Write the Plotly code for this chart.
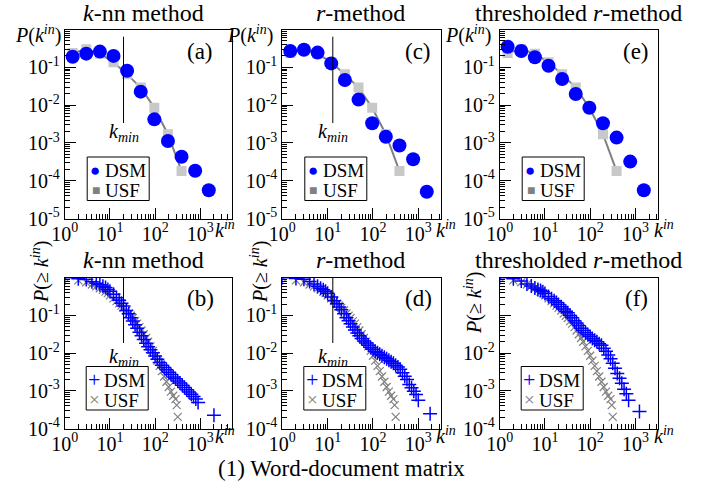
import numpy as np
import plotly.graph_objects as go

W, H = 710, 488
FONT = "Liberation Serif"

# ---------------- data ----------------
# top row: binned in-degree distribution P(k_in)
k_bins = [1.5, 3, 6, 12, 24, 48, 96, 192, 384, 768, 1536]
pdf_dsm_knn = [0.19, 0.23, 0.26, 0.20, 0.081, 0.0227, 0.0042, 0.00112, 4.3e-4, 1.84e-4, 5.6e-5]
pdf_dsm_r = [0.27, 0.29, 0.245, 0.127, 0.046, 0.014, 0.0033, 0.00146, 8.5e-4, 3.7e-4, 5.1e-5]
pdf_dsm_thr = [0.35, 0.27, 0.184, 0.11, 0.049, 0.0196, 0.0085, 0.0033, 0.00138, 3.2e-4, 5.6e-5]
k_bins_usf = [1.5, 3, 6, 12, 24, 48, 96, 192, 384]
pdf_usf = [0.24, 0.30, 0.23, 0.135, 0.065, 0.029, 0.0085, 0.0017, 1.8e-4]

# bottom row: cumulative distribution P(>= k_in)
k_cum_knn = [1, 2, 3, 4, 5, 6, 7, 8, 9, 10,
             12, 14, 16, 18, 20, 23, 26, 29, 32, 36, 40, 45, 50, 56, 63, 70, 79, 89, 100,
             112, 126, 141, 158, 178, 200, 224, 251, 282, 316,
             355, 398, 447, 501, 562, 631, 708, 794, 891, 2000]
cum_dsm_knn = [1, 0.933, 0.891, 0.776, 0.708, 0.646, 0.589, 0.550, 0.490, 0.437,
               0.363, 0.295, 0.251, 0.209, 0.178, 0.135, 0.110, 0.0871, 0.0708, 0.0562,
               0.0457, 0.0355, 0.0288, 0.0229, 0.0182, 0.0148, 0.0123, 0.0102, 0.00832,
               0.00692, 0.00562, 0.00479, 0.00417, 0.00363, 0.00309, 0.00269, 0.00234, 0.00209, 0.00182,
               0.00162, 0.00141, 0.00123, 0.00107, 9.33e-4, 8.13e-4, 7.08e-4, 6.03e-4, 4.9e-4, 2.24e-4]

k_cum_r = [1, 2, 3, 4, 5, 6, 7, 8, 9, 10,
           12, 14, 16, 18, 20, 23, 26, 29, 32, 36, 40, 45, 50, 56, 63, 70, 79, 89, 100,
           112, 126, 141, 158, 178, 200, 224, 251, 282, 316,
           355, 398, 447, 501, 562, 631, 708, 794, 891, 1000, 1820]
cum_dsm_r = [1, 0.955, 0.912, 0.794, 0.676, 0.589, 0.525, 0.479, 0.437, 0.389,
             0.309, 0.245, 0.204, 0.166, 0.141, 0.110, 0.0871, 0.0724, 0.0603, 0.0490,
             0.0407, 0.0339, 0.0288, 0.0245, 0.0209, 0.0186, 0.0162, 0.0141, 0.0126,
             0.0112, 0.0102, 0.00933, 0.00851, 0.00776, 0.00708, 0.00646, 0.00589, 0.00537, 0.00479,
             0.00427, 0.00372, 0.00302, 0.00245, 0.00200, 0.00148, 0.00120, 9.77e-4, 7.94e-4,
             5.62e-4, 2.45e-4]

k_cum_thr = [1, 2, 3, 4, 5, 6, 7, 8, 9, 10,
             12, 14, 16, 18, 20, 23, 26, 29, 32, 36, 40, 45, 50, 56, 63, 70, 79, 89, 100,
             112, 126, 141, 158, 178, 200, 224, 251, 282, 316,
             355, 398, 447, 501, 562, 631, 708, 1230]
cum_dsm_thr = [1, 0.933, 0.813, 0.676, 0.603, 0.537, 0.490, 0.457, 0.427, 0.380,
               0.316, 0.275, 0.245, 0.219, 0.195, 0.170, 0.148, 0.129, 0.117, 0.100,
               0.0871, 0.0724, 0.0631, 0.0537, 0.0457, 0.0398, 0.0347, 0.0309, 0.0275,
               0.0245, 0.0219, 0.0200, 0.0178, 0.0162, 0.0135, 0.0112, 0.00891, 0.00708, 0.00537,
               0.00398, 0.00288, 0.00214, 0.00158, 0.00110, 8.32e-4, 5.62e-4, 2.82e-4]

k_cum_usf = [1, 2, 3, 4, 5, 6, 7, 8, 9, 10,
             12, 14, 16, 18, 20, 23, 26, 29, 32, 36, 40, 45, 50, 56, 63, 70, 79, 89, 100,
             112, 126, 141, 158, 178, 200, 224, 251, 282, 300, 316]
cum_usf = [1, 0.851, 0.759, 0.661, 0.589, 0.525, 0.479, 0.427, 0.389, 0.339,
           0.282, 0.240, 0.209, 0.182, 0.158, 0.135, 0.112, 0.0977, 0.0851, 0.0708,
           0.0603, 0.0490, 0.0398, 0.0316, 0.0251, 0.0200, 0.0151, 0.0115, 0.00851,
           0.00631, 0.00457, 0.00331, 0.00240, 0.00174, 0.00126, 9.55e-4, 7.41e-4, 6.03e-4,
           4.17e-4, 2.04e-4]

k_min = {"knn": 20, "r": 13}

titles = ["<i>k</i>-nn method", "<i>r</i>-method", "thresholded <i>r</i>-method"]
letters_top = ["(a)", "(c)", "(e)"]
letters_bot = ["(b)", "(d)", "(f)"]
methods = ["knn", "r", "thr"]
pdf_dsm = {"knn": pdf_dsm_knn, "r": pdf_dsm_r, "thr": pdf_dsm_thr}
cum_dsm = {"knn": (k_cum_knn, cum_dsm_knn), "r": (k_cum_r, cum_dsm_r), "thr": (k_cum_thr, cum_dsm_thr)}

x_tickvals = [1, 10, 100, 1000]
x_ticktext = ["10<sup>0</sup>", "10<sup>1</sup>", "10<sup>2</sup>", "10<sup>3</sup>"]
y_tickvals_top = [1e-1, 1e-2, 1e-3, 1e-4, 1e-5]
y_ticktext_top = ["10<sup>-1</sup>", "10<sup>-2</sup>", "10<sup>-3</sup>", "10<sup>-4</sup>", "10<sup>-5</sup>"]
y_tickvals_bot = [1e-1, 1e-2, 1e-3, 1e-4]
y_ticktext_bot = ["10<sup>-1</sup>", "10<sup>-2</sup>", "10<sup>-3</sup>", "10<sup>-4</sup>"]
# in panel (f) the rotated axis title sits over the 10^-1 label
y_ticktext_bot_f = ["", "10<sup>-2</sup>", "10<sup>-3</sup>", "10<sup>-4</sup>"]

# ---------------- layout geometry (pixels) ----------------
cols = [(64.7, 232.0, 3.7), (282.3, 441.0, 3.5), (499.7, 658.0, 3.5)]
rows = [(29.5, 218.5, -5), (277.7, 428.5, -4)]

BLUE = "#0000ff"
GRAY = "#808080"
LGRAY = "#c8c8c8"

def px(p):
    return p / W

def py(p):
    return 1 - p / H

minor_vals = [m * 10.0 ** e for e in range(-6, 4) for m in range(2, 10)]

fig = go.Figure()
annotations = []
shapes = []

def ann(text, x, y, size=20, xanchor="center", yanchor="middle", color="black", angle=0):
    annotations.append(dict(text=text, x=px(x), y=py(y), xref="paper", yref="paper",
                            xanchor=xanchor, yanchor=yanchor, showarrow=False, textangle=angle,
                            font=dict(family=FONT, size=size, color=color)))

for i in range(6):
    row, col = divmod(i, 3)
    n = i + 1
    x0, x1, xmax = cols[col]
    y0, y1, ymin = rows[row]
    xname = "xaxis" if n == 1 else f"xaxis{n}"
    yname = "yaxis" if n == 1 else f"yaxis{n}"
    xref = "x" if n == 1 else f"x{n}"
    yref = "y" if n == 1 else f"y{n}"
    common = dict(type="log", showgrid=False, zeroline=False, showline=True, mirror=True,
                  automargin=False,
                  linecolor="black", linewidth=1, ticks="inside", ticklen=11, tickwidth=1,
                  tickcolor="black", tickfont=dict(family=FONT, size=20, color="black"),
                  tickmode="array",
                  minor=dict(tickmode="array", tickvals=minor_vals, ticks="inside", ticklen=5,
                             tickwidth=1, tickcolor="black", showgrid=False))
    if row == 0:
        ytv, ytt = y_tickvals_top, y_ticktext_top
    else:
        ytv = y_tickvals_bot
        ytt = y_ticktext_bot_f if col == 2 else y_ticktext_bot
    fig.layout[xname] = dict(common, range=[0, xmax], domain=[px(x0), px(x1)], anchor=yref,
                             tickvals=x_tickvals, ticktext=x_ticktext, ticklabelstandoff=-3)
    fig.layout[yname] = dict(common, range=[ymin, 0], domain=[py(y1), py(y0)], anchor=xref,
                             tickvals=ytv, ticktext=ytt)
    m = methods[col]
    if row == 0:
        fig.add_trace(go.Scatter(x=k_bins_usf, y=pdf_usf, mode="lines+markers", xaxis=xref, yaxis=yref,
                                 line=dict(color=GRAY, width=2),
                                 marker=dict(symbol="square", size=10, color=LGRAY)))
        fig.add_trace(go.Scatter(x=k_bins, y=pdf_dsm[m], mode="markers", xaxis=xref, yaxis=yref,
                                 marker=dict(symbol="circle", size=14, color=BLUE)))
    else:
        fig.add_trace(go.Scatter(x=k_cum_usf, y=cum_usf, mode="markers", xaxis=xref, yaxis=yref,
                                 marker=dict(symbol="x-thin", size=8, color=GRAY,
                                             line=dict(width=1.2, color=GRAY))))
        kc, pc = cum_dsm[m]
        fig.add_trace(go.Scatter(x=kc, y=pc, mode="markers", xaxis=xref, yaxis=yref,
                                 marker=dict(symbol="cross-thin", size=10, color=BLUE,
                                             line=dict(width=1.5, color=BLUE))))

    # k_min marker line + label
    if m in k_min:
        km = k_min[m]
        if row == 0:
            ya0, ya1, ylab = 0.505, 0.962, 0.455
        else:
            ya0, ya1, ylab = 0.567, 1.0, 0.474
        shapes.append(dict(type="line", xref=xref, yref=f"{yref} domain", x0=km, x1=km,
                           y0=ya0, y1=ya1, line=dict(color="black", width=1)))
        annotations.append(dict(text="<i>k</i><sub><i>min</i></sub>", x=np.log10(km), y=ylab,
                                xref=xref, yref=f"{yref} domain", showarrow=False,
                                xanchor="center", yanchor="middle",
                                font=dict(family=FONT, size=20, color="black")))

    # legend box
    if row == 0:
        L, T = x0 + 22.5, 157
    else:
        L, T = x0 + 21.5, 366.5
    R, B = L + 62, T + 43.5
    shapes.append(dict(type="rect", xref="paper", yref="paper", x0=px(L), x1=px(R),
                       y0=py(B), y1=py(T), line=dict(color="black", width=1),
                       fillcolor="white", layer="above"))
    if row == 0:
        ann("●", L + 8, T + 13.5, size=17, color=BLUE)
        ann("■", L + 8.5, T + 33.5, size=14, color=GRAY)
    else:
        ann("+", L + 8, T + 13, size=22, color=BLUE)
        ann("×", L + 8.5, T + 32.5, size=19, color=GRAY)
    ann("DSM", L + 16, T + 13.5, size=19, xanchor="left")
    ann("USF", L + 16, T + 33.5, size=19, xanchor="left")

# titles
title_x = [143, 360.5, 578]
for c in range(3):
    ann(titles[c], title_x[c], 13, size=24)
    ann(titles[c], title_x[c], 260, size=24)

# panel letters
letter_x = [200, 418, 636]
for c in range(3):
    ann(letters_top[c], letter_x[c], 51, size=23)
    ann(letters_bot[c], letter_x[c], 298, size=23)

# axis labels
ylab_top_right = [63, 275, 493]
ylab_bot_pos = [(40, 272), (259, 272), (473, 303)]
xlab_left = [213, 434, 652]
for c in range(3):
    ann("<i>P</i>(<i>k</i><sup><i>in</i></sup>)", ylab_top_right[c], 34, size=20, xanchor="right")
    ann("<i>P</i>(≥ <i>k</i><sup><i>in</i></sup>)", ylab_bot_pos[c][0], ylab_bot_pos[c][1],
        size=20, angle=-90)
    ann("<i>k</i><sup><i>in</i></sup>", xlab_left[c], 229, size=20, xanchor="left")
    ann("<i>k</i><sup><i>in</i></sup>", xlab_left[c], 435, size=20, xanchor="left")

ann("(1) Word-document matrix", 341, 468, size=23)

fig.update_layout(width=W, height=H, margin=dict(l=0, r=0, t=0, b=0),
                  paper_bgcolor="white", plot_bgcolor="white", showlegend=False,
                  annotations=annotations, shapes=shapes,
                  font=dict(family=FONT, size=20, color="black"))

fig.write_html("out.html", config={"displayModeBar": False},
               post_script="document.body.style.margin='0';document.body.style.padding='0';")
